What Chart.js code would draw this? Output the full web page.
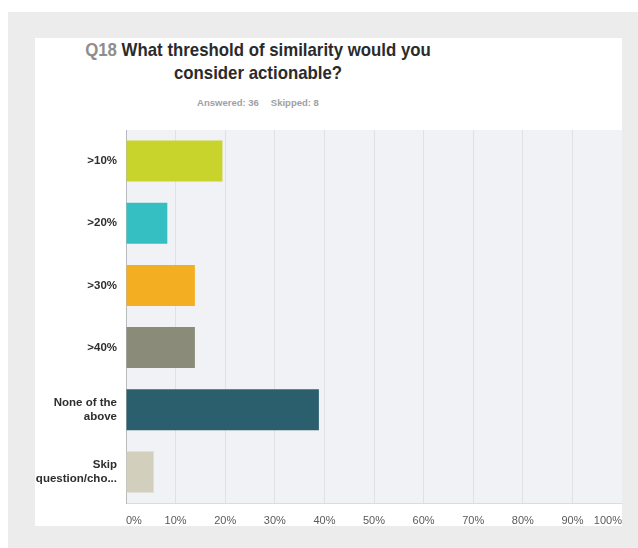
<!DOCTYPE html>
<html lang="en">
<head>
    <meta charset="UTF-8">
    <title>Q18 What threshold of similarity would you consider actionable?</title>
    <script src="https://cdn.jsdelivr.net/npm/chart.js"></script>
    <style>
        html, body {
            margin: 0;
            padding: 0;
            background: #FFFFFF;
            font-family: "Liberation Sans", Arial, sans-serif;
        }
        .frame {
            position: absolute;
            left: 8px;
            top: 12px;
            width: 630px;
            height: 536px;
            background: #ECECEC;
        }
        .panel {
            position: absolute;
            left: 35px;
            top: 38px;
            width: 587px;
            height: 488px;
            background: #FFFFFF;
            overflow: hidden;
        }
        .title {
            position: absolute;
            left: 0;
            width: 446px;
            text-align: center;
            font-weight: bold;
            font-size: 19px;
            line-height: 23px;
            color: #2B2B2B;
            transform: scaleX(0.885);
            transform-origin: 223px 0;
        }
        .title .q {
            color: #8E8E8E;
        }
        .sub {
            position: absolute;
            left: 0;
            top: 59px;
            width: 446px;
            text-align: center;
            font-weight: bold;
            font-size: 9.5px;
            color: #A0A0A0;
        }
        .sub span + span {
            margin-left: 12px;
        }
        .chart-box {
            position: absolute;
            left: 0;
            top: 92px;
            width: 587px;
            height: 396px;
        }
    </style>
</head>
<body>
    <div class="frame"></div>
    <div class="panel">
        <div class="title" style="top: 0px;"><span class="q">Q18</span> What threshold of similarity would you</div>
        <div class="title" style="top: 23px;">consider actionable?</div>
        <div class="sub"><span>Answered: 36</span><span>Skipped: 8</span></div>
        <div class="chart-box">
            <canvas id="chart"></canvas>
        </div>
    </div>
    <script>
        // answer choices (multi-line labels as arrays)
        const choices = [">10%", ">20%", ">30%", ">40%", ["None of the", "above"], ["Skip", "question/cho..."]];
        // share of respondents, percent (of 36 answered)
        const shares = [19.44, 8.33, 13.89, 13.89, 38.89, 5.56];
        const barColors = ["#C8D32B", "#35BFC3", "#F4AE21", "#8A8B78", "#2C5F6D", "#D2CFBD"];
        const xTicks = [0, 10, 20, 30, 40, 50, 60, 70, 80, 90, 100];

        // light plot background behind the bars
        const plotBg = {
            id: 'plotBg',
            beforeDraw(chart) {
                const a = chart.chartArea;
                const ctx = chart.ctx;
                ctx.save();
                ctx.fillStyle = '#F0F2F5';
                ctx.fillRect(a.left, a.top, a.right - a.left, a.bottom - a.top);
                ctx.strokeStyle = '#DADCDF';
                ctx.lineWidth = 1;
                ctx.beginPath();
                ctx.moveTo(a.left, a.bottom + 0.5);
                ctx.lineTo(a.right, a.bottom + 0.5);
                ctx.stroke();
                ctx.restore();
            }
        };

        const ctx = document.getElementById('chart').getContext('2d');
        new Chart(ctx, {
            type: 'bar',
            data: {
                labels: choices,
                datasets: [{
                    data: shares,
                    backgroundColor: barColors,
                    borderWidth: 0,
                    categoryPercentage: 0.66,
                    barPercentage: 1.0
                }]
            },
            options: {
                indexAxis: 'y',
                responsive: true,
                maintainAspectRatio: false,
                animation: false,
                layout: { padding: 0 },
                plugins: {
                    legend: { display: false },
                    tooltip: { enabled: false }
                },
                scales: {
                    x: {
                        min: 0,
                        max: 100,
                        afterBuildTicks: (s) => { s.ticks = xTicks.map(v => ({ value: v })); },
                        afterFit: (s) => {
                            s.height = 23;
                            s.paddingLeft = 0;
                            s.paddingRight = 0;
                        },
                        grid: { color: '#DFE1E4', drawTicks: false },
                        border: { display: false },
                        ticks: {
                            align: 'inner',
                            maxRotation: 0,
                            autoSkip: false,
                            padding: 11,
                            color: '#5A5A5A',
                            font: { family: '"Liberation Sans", Arial, sans-serif', size: 11 },
                            callback: (v) => v + '%'
                        }
                    },
                    y: {
                        afterFit: (s) => {
                            s.width = 91;
                            s.paddingTop = 0;
                            s.paddingBottom = 0;
                        },
                        grid: { display: false, drawTicks: false },
                        border: { display: true, color: '#B8BABD', width: 1 },
                        ticks: {
                            padding: 9,
                            color: '#2E2E2E',
                            font: { family: '"Liberation Sans", Arial, sans-serif', size: 11.5, weight: 'bold', lineHeight: 1.2 }
                        }
                    }
                }
            },
            plugins: [plotBg]
        });
    </script>
</body>
</html>
